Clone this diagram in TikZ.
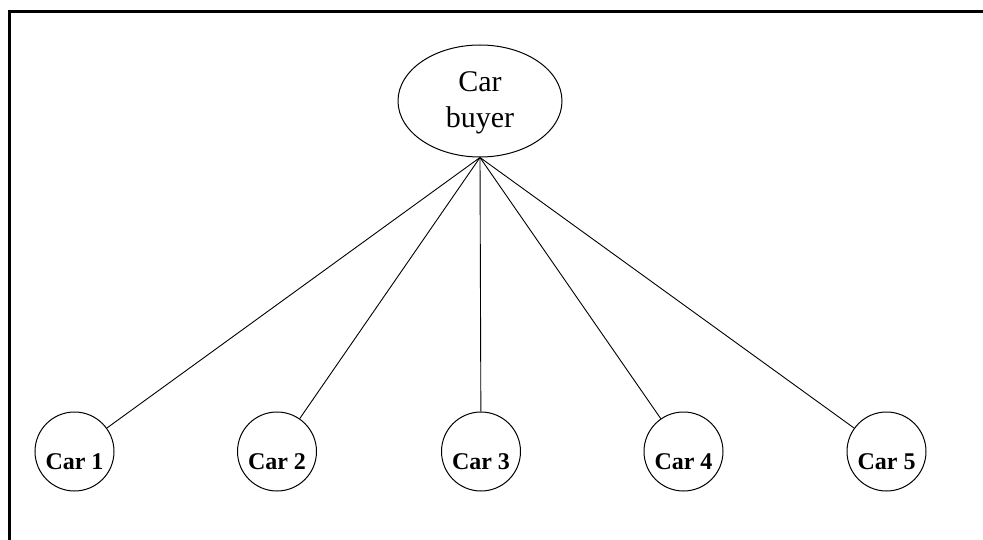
\documentclass[tikz,border=0pt]{standalone}
\usepackage{fontspec}
\setmainfont{Liberation Serif}
\usetikzlibrary{shapes.geometric}
\begin{document}
\begin{tikzpicture}[x=1pt,y=-1pt,
  carnode/.style={circle,draw,line width=1pt,minimum size=79pt,inner sep=0pt},
  cartext/.style={anchor=base,font=\fontsize{24}{28}\selectfont\bfseries,inner sep=0pt},
  buyertext/.style={anchor=base,font=\fontsize{30}{36}\selectfont,inner sep=0pt},
  link/.style={line width=0.9pt}]
\useasboundingbox (0,0) rectangle (983,540);
\coordinate (fbot) at (9.5,541);
\coordinate (fcorner) at (9.5,11.5);
\coordinate (fright) at (984,11.5);
\draw[line width=3pt] (fbot) -- (fcorner) -- (fright);
\node[ellipse,draw,line width=1pt,minimum width=164pt,minimum height=112pt,inner sep=0pt] (buyer) at (480,101) {};
\node[buyertext] (buyer1) at (480,92) {Car};
\node[buyertext] (buyer2) at (480,128) {buyer};
\foreach \i/\x in {1/74.5,2/277,3/481,4/683.5,5/886.5}{
  \node[carnode] (car\i) at (\x,451.5) {};
  \node[cartext] (cart\i) at (\x,469.5) {Car \i};
  \draw[link] (buyer.south) -- (car\i);
}
\end{tikzpicture}
\end{document}
